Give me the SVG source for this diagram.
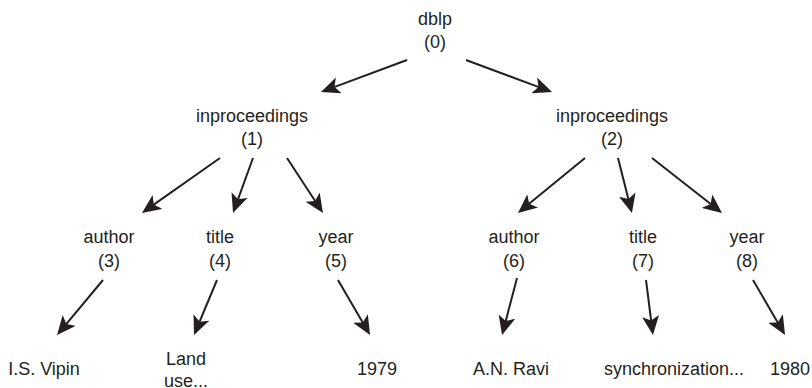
<svg xmlns="http://www.w3.org/2000/svg" width="812" height="388" viewBox="0 0 812 388">
<style>
text{font-family:"Liberation Sans",Arial,sans-serif;font-size:18px;fill:#231f20;text-anchor:middle}
.e line{stroke:#231f20;stroke-width:2;fill:none}
</style>
<defs>
<marker id="ah" markerUnits="userSpaceOnUse" markerWidth="19" markerHeight="17" viewBox="0 0 19 17" refX="5" refY="8.5" orient="auto">
<path d="M0,0 L19,8.5 L0,17 L4.5,8.5 Z" fill="#231f20"/>
</marker>
</defs>
<rect width="812" height="388" fill="#fff"/>
<g class="e" id="connectors">
<line x1="407" y1="60" x2="334.1" y2="87.1" marker-end="url(#ah)"/>
<line x1="466" y1="60" x2="538.9" y2="87.1" marker-end="url(#ah)"/>
<line x1="220" y1="158" x2="153.4" y2="204.9" marker-end="url(#ah)"/>
<line x1="253" y1="158" x2="237.8" y2="199.8" marker-end="url(#ah)"/>
<line x1="287" y1="158" x2="315.3" y2="201.3" marker-end="url(#ah)"/>
<line x1="585" y1="158" x2="528.8" y2="204.1" marker-end="url(#ah)"/>
<line x1="618" y1="158" x2="628.5" y2="199.4" marker-end="url(#ah)"/>
<line x1="652" y1="158" x2="711" y2="204.3" marker-end="url(#ah)"/>
<line x1="103" y1="280" x2="66" y2="324.3" marker-end="url(#ah)"/>
<line x1="217" y1="280" x2="199.4" y2="322.1" marker-end="url(#ah)"/>
<line x1="338" y1="280" x2="363" y2="322.9" marker-end="url(#ah)"/>
<line x1="517" y1="278" x2="505.6" y2="321.5" marker-end="url(#ah)"/>
<line x1="646" y1="280" x2="651.2" y2="321.1" marker-end="url(#ah)"/>
<line x1="753" y1="280" x2="778" y2="322.9" marker-end="url(#ah)"/>
</g>
<g id="n0"><text x="435" y="25">dblp</text><text x="435" y="48">(0)</text></g>
<g id="n1"><text x="252" y="122">inproceedings</text><text x="252" y="145">(1)</text></g>
<g id="n2"><text x="612" y="122">inproceedings</text><text x="612" y="145">(2)</text></g>
<g id="n3"><text x="109" y="243">author</text><text x="109" y="267">(3)</text></g>
<g id="n4"><text x="220" y="243">title</text><text x="220" y="267">(4)</text></g>
<g id="n5"><text x="336" y="243">year</text><text x="336" y="267">(5)</text></g>
<g id="n6"><text x="514" y="243">author</text><text x="514" y="267">(6)</text></g>
<g id="n7"><text x="643" y="243">title</text><text x="643" y="267">(7)</text></g>
<g id="n8"><text x="747" y="243">year</text><text x="747" y="267">(8)</text></g>
<g id="v3"><text x="44" y="375">I.S. Vipin</text></g>
<g id="v4"><text x="186" y="365">Land</text><text x="186" y="387">use...</text></g>
<g id="v5"><text x="377" y="375">1979</text></g>
<g id="v6"><text x="511" y="375">A.N. Ravi</text></g>
<g id="v7"><text x="674" y="375">synchronization...</text></g>
<g id="v8"><text x="790" y="375">1980</text></g>
</svg>
